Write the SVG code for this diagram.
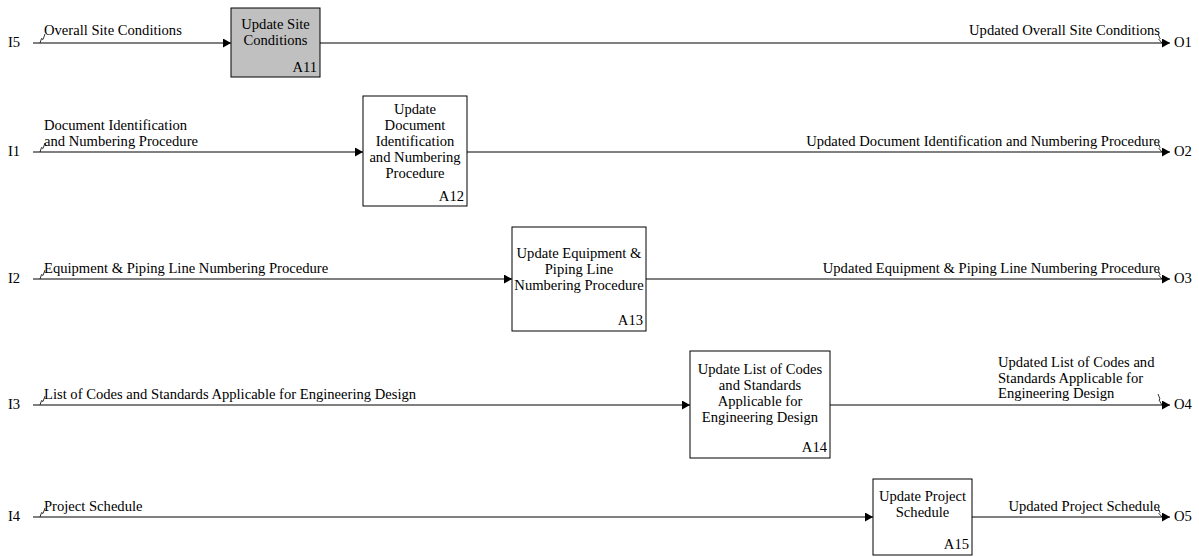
<svg xmlns="http://www.w3.org/2000/svg" width="1199" height="557" viewBox="0 0 1199 557">
<style>
text{font-family:"Liberation Serif","Times New Roman",serif;font-size:14.6px;fill:#000}
.c{text-anchor:middle}
.e{text-anchor:end}
.box{fill:#fff;stroke:#000;stroke-width:1}
.sel{fill:#c0c0c0}
.ln{fill:none;stroke:#000;stroke-width:1}
.sq{fill:none;stroke:#000;stroke-width:0.8}
</style>
<defs>
<marker id="ah" markerWidth="9" markerHeight="9" refX="8" refY="4.5" orient="auto" markerUnits="userSpaceOnUse">
<path d="M0,0 L8,4.5 L0,9 Z" fill="#000"/>
</marker>
</defs>
<rect width="1199" height="557" fill="#fff"/>
<g id="connectors" font-family="Liberation Serif, serif">
<path class="ln" d="M33,43 H231" marker-end="url(#ah)"/>
<path class="ln" d="M320,43 H1170" marker-end="url(#ah)"/>
<path class="ln" d="M33,152 H363" marker-end="url(#ah)"/>
<path class="ln" d="M467,152 H1170" marker-end="url(#ah)"/>
<path class="ln" d="M33,279 H512" marker-end="url(#ah)"/>
<path class="ln" d="M646,279 H1170" marker-end="url(#ah)"/>
<path class="ln" d="M33,405 H690" marker-end="url(#ah)"/>
<path class="ln" d="M830,405 H1170" marker-end="url(#ah)"/>
<path class="ln" d="M33,517 H873" marker-end="url(#ah)"/>
<path class="ln" d="M972,517 H1170" marker-end="url(#ah)"/>
<g class="sq">
<path d="M40,43 L41.5,38.5 L43,39.5 L45,34"/>
<path d="M40,152 L41.5,147.5 L43,148.5 L45,143"/>
<path d="M40,279 L41.5,274.5 L43,275.5 L45,270"/>
<path d="M40,405 L41.5,400.5 L43,401.5 L45,396"/>
<path d="M40,517 L41.5,512.5 L43,513.5 L45,508"/>
<path d="M1158,34 L1160,38.5 L1159,39.5 L1162,43"/>
<path d="M1158,143 L1160,147.5 L1159,148.5 L1162,152"/>
<path d="M1158,270 L1160,274.5 L1159,275.5 L1162,279"/>
<path d="M1158,394 L1160,399 L1159,400 L1162,405"/>
<path d="M1158,508 L1160,512.5 L1159,513.5 L1162,517"/>
</g>
<text x="8" y="47">I5</text>
<text x="44" y="35">Overall Site Conditions</text>
<text class="e" x="1160" y="35">Updated Overall Site Conditions</text>
<text x="1174" y="47">O1</text>
<text x="8" y="156">I1</text>
<text x="44" y="130">Document Identification</text>
<text x="44" y="146">and Numbering Procedure</text>
<text class="e" x="1160" y="146">Updated Document Identification and Numbering Procedure</text>
<text x="1174" y="156">O2</text>
<text x="8" y="283">I2</text>
<text x="44" y="273">Equipment &amp; Piping Line Numbering Procedure</text>
<text class="e" x="1160" y="273">Updated Equipment &amp; Piping Line Numbering Procedure</text>
<text x="1174" y="283">O3</text>
<text x="8" y="409">I3</text>
<text x="44" y="399">List of Codes and Standards Applicable for Engineering Design</text>
<text x="998" y="367">Updated List of Codes and</text>
<text x="998" y="383">Standards Applicable for</text>
<text x="998" y="398">Engineering Design</text>
<text x="1174" y="409">O4</text>
<text x="8" y="521">I4</text>
<text x="44" y="511">Project Schedule</text>
<text class="e" x="1160" y="511">Updated Project Schedule</text>
<text x="1174" y="521">O5</text>
</g>
<g id="A11" font-family="Liberation Serif, serif">
<rect class="box sel" x="231" y="8" width="89" height="69"/>
<text class="c" x="275.5" y="29">Update Site</text>
<text class="c" x="275.5" y="45">Conditions</text>
<text class="e" x="317" y="72">A11</text>
</g>
<g id="A12" font-family="Liberation Serif, serif">
<rect class="box" x="363" y="96" width="104" height="110"/>
<text class="c" x="415" y="114">Update</text>
<text class="c" x="415" y="130">Document</text>
<text class="c" x="415" y="146">Identification</text>
<text class="c" x="415" y="162">and Numbering</text>
<text class="c" x="415" y="178">Procedure</text>
<text class="e" x="464" y="201">A12</text>
</g>
<g id="A13" font-family="Liberation Serif, serif">
<rect class="box" x="512" y="227" width="134" height="104"/>
<text class="c" x="579" y="258">Update Equipment &amp;</text>
<text class="c" x="579" y="274">Piping Line</text>
<text class="c" x="579" y="290">Numbering Procedure</text>
<text class="e" x="643" y="325">A13</text>
</g>
<g id="A14" font-family="Liberation Serif, serif">
<rect class="box" x="690" y="351" width="140" height="107"/>
<text class="c" x="760" y="374">Update List of Codes</text>
<text class="c" x="760" y="390">and Standards</text>
<text class="c" x="760" y="406">Applicable for</text>
<text class="c" x="760" y="422">Engineering Design</text>
<text class="e" x="827" y="452">A14</text>
</g>
<g id="A15" font-family="Liberation Serif, serif">
<rect class="box" x="873" y="479" width="99" height="76"/>
<text class="c" x="922.5" y="501">Update Project</text>
<text class="c" x="922.5" y="517">Schedule</text>
<text class="e" x="969" y="549">A15</text>
</g>
</svg>
